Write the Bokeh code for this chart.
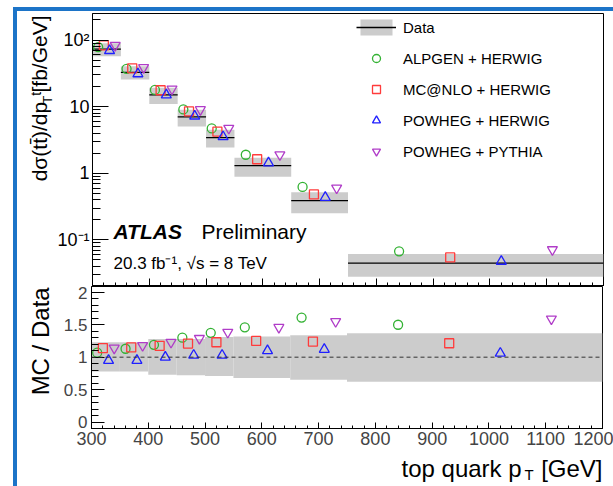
import numpy as np
from bokeh.plotting import figure
from bokeh.models import (Range1d, FixedTicker, SingleIntervalTicker, CustomJSTickFormatter,
                          NumeralTickFormatter, Label, Legend, LegendItem, Span, Spacer)
from bokeh.core.properties import value
from bokeh.layouts import column, row
from bokeh.embed import file_html
from bokeh.resources import INLINE

FONT = "Liberation Sans"

# ---------------- data ----------------
bin_lo = [300, 350, 400, 450, 500, 550, 650, 750]
bin_hi = [350, 400, 450, 500, 550, 650, 750, 1200]
data_xsec = [73.0, 32.7, 15.0, 7.0, 3.43, 1.30, 0.388, 0.045]
data_unc_up = [0.23, 0.23, 0.28, 0.28, 0.31, 0.32, 0.34, 0.37]
data_unc_dn = [0.22, 0.22, 0.27, 0.28, 0.29, 0.32, 0.35, 0.38]

alpgen_x = [310, 360, 410, 460, 510, 570, 670, 840]
alpgen_ratio = [1.07, 1.13, 1.19, 1.30, 1.375, 1.46, 1.61, 1.50]
mcnlo_x = [320, 370, 420, 470, 520, 590, 690, 930]
mcnlo_ratio = [1.14, 1.15, 1.175, 1.21, 1.23, 1.25, 1.24, 1.215]
powhegh_x = [330, 380, 430, 480, 530, 610, 710, 1020]
powhegh_ratio = [0.95, 0.95, 1.00, 1.03, 1.03, 1.10, 1.12, 1.06]
powhegp_x = [340, 390, 440, 490, 540, 630, 730, 1110]
powhegp_ratio = [1.14, 1.18, 1.23, 1.29, 1.385, 1.46, 1.55, 1.59]

model_names = ["ALPGEN + HERWIG", "MC@NLO + HERWIG", "POWHEG + HERWIG", "POWHEG + PYTHIA"]
model_markers = ["circle", "square", "triangle", "inverted_triangle"]
model_colors = ["#33b233", "#ff3b3b", "#1f1fff", "#b03cc8"]
model_sizes = [9, 9, 10, 10]
model_xs = [alpgen_x, mcnlo_x, powhegh_x, powhegp_x]
model_ratios = [alpgen_ratio, mcnlo_ratio, powhegh_ratio, powhegp_ratio]

log_tick_values = [0.1, 1, 10, 100]
log_tick_labels = ["10\u207b\u00b9", "1", "10", "10\u00b2"]
log_minor_ticks = [k * 10.0 ** e for e in range(-2, 3) for k in range(2, 10)]

band_color = "#cccccc"
blue = "#1c74c8"


def text_strip(w, h):
    # plain canvas whose data units equal pixels (origin bottom-left)
    f = figure(width=w, height=h, x_range=Range1d(0, w), y_range=Range1d(0, h),
               min_border=0, x_axis_location=None, y_axis_location=None,
               toolbar_location=None, output_backend="svg", title=None,
               background_fill_color="white", border_fill_color="white")
    f.outline_line_color = None
    f.grid.visible = False
    return f


def txt(fig, x, y, text, size, angle=0.0, align="left", baseline="alphabetic"):
    fig.text(x=[x], y=[y], text=[text], angle=angle, text_align=align,
             text_baseline=baseline, text_font=value(FONT), text_font_size=size,
             text_color="black")


def lab(fig, x, y, text, size, style="normal"):
    fig.add_layout(Label(x=x, y=y, x_units="screen", y_units="screen", text=text,
                         text_font=FONT, text_font_size=size, text_font_style=style,
                         text_color="black"))


# ---------------- upper panel ----------------
xr = Range1d(300, 1200)
p1 = figure(frame_width=511, frame_height=273, x_range=xr, y_range=Range1d(0.02, 250),
            y_axis_type="log", output_backend="svg", toolbar_location=None,
            min_border_left=37, min_border_right=11, min_border_top=2, min_border_bottom=0,
            background_fill_color="white", border_fill_color="white")
p1.grid.visible = False
p1.outline_line_color = "black"

lo = np.array(bin_lo, float)
hi = np.array(bin_hi, float)
d = np.array(data_xsec)
up = np.array(data_unc_up)
dn = np.array(data_unc_dn)

band1 = p1.quad(left=lo, right=hi, bottom=d * (1 - dn), top=d * (1 + up),
                fill_color=band_color, line_color=None)
line1 = p1.segment(x0=lo, x1=hi, y0=d, y1=d, line_color="black", line_width=1.3)

mc_renderers = []
for mk, col, sz, xs, rs in zip(model_markers, model_colors, model_sizes, model_xs, model_ratios):
    r = p1.scatter(x=xs, y=d * np.array(rs), marker=mk, size=sz, fill_color=None,
                   line_color=col, line_width=1.3)
    mc_renderers.append(r)

ya = p1.yaxis[0]
ya.ticker = FixedTicker(ticks=log_tick_values, minor_ticks=log_minor_ticks)
ya.formatter = CustomJSTickFormatter(args=dict(vals=log_tick_values, labs=log_tick_labels), code="""
for (let i = 0; i < vals.length; i++) {
  if (Math.abs(Math.log10(tick) - Math.log10(vals[i])) < 1e-6) return labs[i];
}
return "";
""")
ya.major_tick_in = 16
ya.major_tick_out = 0
ya.minor_tick_in = 8
ya.minor_tick_out = 0
ya.major_label_standoff = 3
ya.major_label_text_font = FONT
ya.major_label_text_font_size = "18px"
ya.major_label_text_color = "black"
ya.axis_line_color = "black"

xa1 = p1.xaxis[0]
xa1.ticker = SingleIntervalTicker(interval=100, num_minor_ticks=5)
xa1.major_tick_in = 8
xa1.major_tick_out = 0
xa1.minor_tick_in = 4
xa1.minor_tick_out = 0
xa1.major_label_text_font_size = "0px"
xa1.major_label_text_color = None
xa1.major_label_standoff = 0
xa1.axis_line_color = "black"

legend = Legend(items=[LegendItem(label="Data", renderers=[band1, line1])] +
                [LegendItem(label=n, renderers=[r]) for n, r in zip(model_names, mc_renderers)],
                location=(264, 125), glyph_width=40, glyph_height=20, label_height=20,
                label_standoff=7, spacing=11, padding=0, margin=0,
                border_line_color=None, background_fill_alpha=0,
                label_text_font=FONT, label_text_font_size="15px", label_text_color="black")
p1.add_layout(legend)

lab(p1, 21, 44, "ATLAS", "21px", style="bold italic")
lab(p1, 109, 44, "Preliminary", "21px")
lab(p1, 21, 14, "20.3 fb\u207b\u00b9, \u221as = 8 TeV", "17px")

# y title strip for upper panel (abs x 17..54, y 11..286); rotated, centred across
R = np.pi / 2
ylab1 = text_strip(37, 275)
txt(ylab1, 22, 273, "[fb/GeV]", "21px", angle=R, align="right", baseline="middle")
txt(ylab1, 18.5, 196, "t", "14px", angle=R, align="right", baseline="middle")
txt(ylab1, 29.5, 192, "T", "13px", angle=R, align="right", baseline="middle")
txt(ylab1, 22, 186, "d\u03c3(tt\u0304)/dp", "21px", angle=R, align="right", baseline="middle")

# ---------------- lower panel ----------------
p2 = figure(frame_width=511, frame_height=142, x_range=xr, y_range=Range1d(-0.1, 2.09),
            output_backend="svg", toolbar_location=None,
            min_border_left=37, min_border_right=11, min_border_top=0, min_border_bottom=26,
            background_fill_color="white", border_fill_color="white")
p2.grid.visible = False
p2.outline_line_color = "black"

p2.quad(left=lo, right=hi, bottom=1 - dn, top=1 + up, fill_color=band_color, line_color=None)
p2.add_layout(Span(location=1, dimension="width", line_color="#333333", line_width=1,
                   line_dash="4 3"))
for mk, col, sz, xs, rs in zip(model_markers, model_colors, model_sizes, model_xs, model_ratios):
    p2.scatter(x=xs, y=rs, marker=mk, size=sz, fill_color=None, line_color=col, line_width=1.3)

ya2 = p2.yaxis[0]
ya2.ticker = SingleIntervalTicker(interval=0.5, num_minor_ticks=5)
ya2.formatter = NumeralTickFormatter(format="0.[0]")
ya2.major_tick_in = 13
ya2.major_tick_out = 0
ya2.minor_tick_in = 7
ya2.minor_tick_out = 0
ya2.major_label_standoff = 4
ya2.major_label_text_font = FONT
ya2.major_label_text_font_size = "17px"
ya2.axis_line_color = "black"

xa2 = p2.xaxis[0]
xa2.ticker = SingleIntervalTicker(interval=100, num_minor_ticks=5)
xa2.major_tick_in = 6
xa2.major_tick_out = 0
xa2.minor_tick_in = 3
xa2.minor_tick_out = 0
xa2.major_label_standoff = 3
xa2.major_label_text_font = FONT
xa2.major_label_text_font_size = "18px"
xa2.axis_line_color = "black"

# y title strip for lower panel (abs x 17..54, y 286..454)
ylab2 = text_strip(37, 168)
txt(ylab2, 23, 167, "MC / Data", "24px", angle=R, align="right", baseline="middle")

# x title strip (abs x 17..613, y 454..484)
xlab = text_strip(596, 30)
txt(xlab, 384, 16, "top quark p", "24px")
txt(xlab, 507, 10, "T", "15px")
txt(xlab, 585, 16, "[GeV]", "24px", align="right")

# ---------------- layout with blue frame ----------------
top_bar = Spacer(width=600, height=4, styles={"background-color": blue})
left_bar = Spacer(width=4, height=475, styles={"background-color": blue})
body = column(row(ylab1, p1), row(ylab2, p2), xlab)
layout = column(Spacer(width=613, height=7),
                row(Spacer(width=13, height=479),
                    column(top_bar, row(left_bar, body))))

open("out.html", "w").write(file_html(layout, INLINE))
